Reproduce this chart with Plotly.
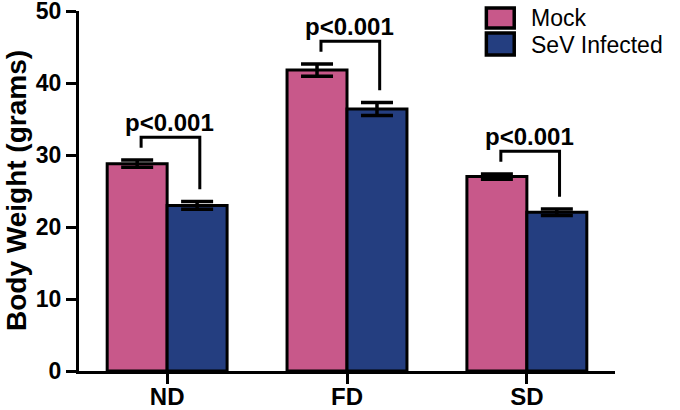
import plotly.graph_objects as go

# ---- data ----
categories = ["ND", "FD", "SD"]
series_names = ["Mock", "SeV Infected"]
mock_values = [28.8, 41.8, 27.0]
mock_errors = [0.5, 0.85, 0.37]
sev_values = [23.0, 36.4, 22.05]
sev_errors = [0.53, 0.9, 0.44]
p_labels = ["p<0.001", "p<0.001", "p<0.001"]
y_ticks = [0, 10, 20, 30, 40, 50]
y_title = "Body Weight (grams)"

# ---- styles ----
colors = ["#c8588a", "#243e80"]
FONT = "Liberation Sans, Arial, Helvetica, sans-serif"
xpos = list(range(len(categories)))

fig = go.Figure()
for name, vals, errs, col in [
    (series_names[0], mock_values, mock_errors, colors[0]),
    (series_names[1], sev_values, sev_errors, colors[1]),
]:
    fig.add_trace(go.Bar(
        x=xpos, y=vals, name=name,
        marker=dict(color=col, line=dict(color="black", width=3)),
        error_y=dict(type="data", array=errs, color="black", thickness=3.5, width=16),
        showlegend=False,
    ))

# significance brackets, derived from the bar values
annotations = []
for i, (mv, me, sv, se, lab) in enumerate(zip(mock_values, mock_errors, sev_values, sev_errors, p_labels)):
    lx = i - 1 / 6 + 0.022
    rx = i + 1 / 6 + 0.015
    lb = mv + me + 1.7
    rb = sv + se + 1.7
    top = max(lb, rb) + 1.45
    fig.add_trace(go.Scatter(
        x=[lx, lx, rx, rx], y=[lb, top, top, rb], mode="lines",
        line=dict(color="black", width=3), showlegend=False, hoverinfo="skip",
    ))
    annotations.append(dict(
        x=i + 0.015, y=top, xref="x", yref="y", text=lab, showarrow=False,
        xanchor="center", yanchor="bottom", yshift=-1,
        font=dict(family=FONT, size=24, color="black", weight="bold"),
    ))

# y-axis title
annotations.append(dict(
    x=0, y=0.5, xref="paper", yref="paper", text=y_title, showarrow=False,
    textangle=-90, xanchor="center", yanchor="middle", xshift=-63,
    font=dict(family=FONT, size=28, color="black", weight="bold"),
))

# custom legend
shapes = []
legend_boxes = [(0.953, 1.008, 0.981), (0.878, 0.939, 0.906)]
for (y0, y1, yt), name, col in zip(legend_boxes, series_names, colors):
    shapes.append(dict(type="rect", xref="paper", yref="paper",
                       x0=0.760, x1=0.812, y0=y0, y1=y1,
                       fillcolor=col, line=dict(color="black", width=3.5)))
    annotations.append(dict(
        x=0.840, y=yt, xref="paper", yref="paper", text=name, showarrow=False,
        xanchor="left", yanchor="middle",
        font=dict(family=FONT, size=23, color="black"),
    ))

axis_common = dict(
    showline=True, linecolor="black", linewidth=3,
    ticks="outside", ticklen=10, tickwidth=3, tickcolor="black",
    showgrid=False, zeroline=False, ticklabeloverflow="allow", automargin=False,
    tickfont=dict(family=FONT, size=24, color="black", weight="bold"),
)

fig.update_layout(
    width=680, height=410,
    margin=dict(l=79, r=65, t=11, b=39, autoexpand=False),
    paper_bgcolor="white", plot_bgcolor="white",
    barmode="group", bargap=1 / 3, bargroupgap=0,
    xaxis=dict(range=[-0.49, 2.49], tickmode="array", tickvals=xpos,
               ticktext=categories, ticklabelstandoff=-8, **axis_common),
    yaxis=dict(range=[0, 50], tickmode="array", tickvals=y_ticks, **axis_common),
    annotations=annotations, shapes=shapes,
    showlegend=False,
)
fig.update_yaxes(tickfont=dict(size=23))

# remove the default 8px page margin so the figure fills the window exactly
fig.write_html("out.html",
               config={"displayModeBar": False},
               post_script="document.body.style.margin='0';document.body.style.overflow='hidden';")
